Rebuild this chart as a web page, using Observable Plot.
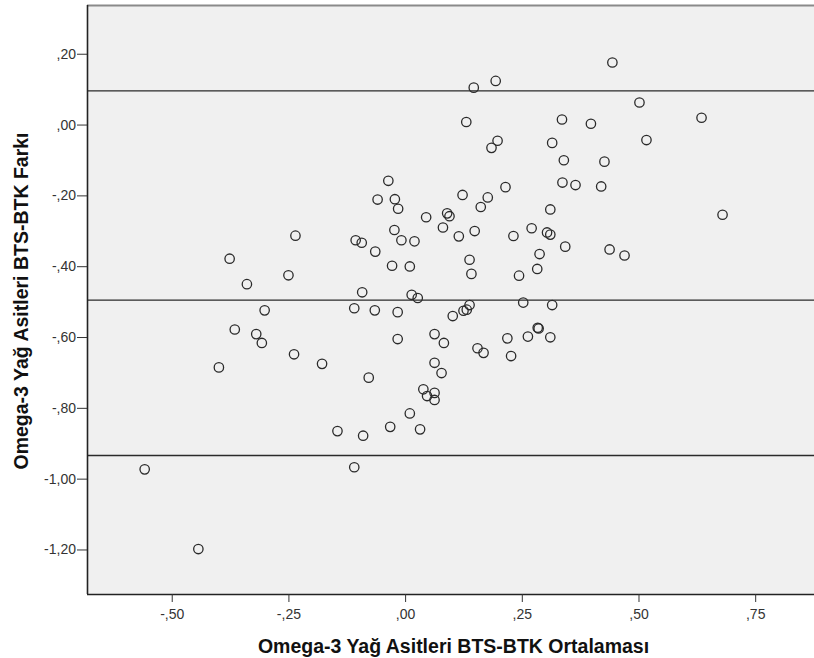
<!DOCTYPE html>
<html>
<head>
<meta charset="utf-8">
<script src="https://cdn.jsdelivr.net/npm/d3@7"></script>
<script src="https://cdn.jsdelivr.net/npm/@observablehq/plot@0.6"></script>
<style>
  html, body { margin: 0; padding: 0; background: #ffffff; }
</style>
</head>
<body>
<div id="chart"></div>
<script>
// Mean of the two measurements (x) and their difference (y)
const ortalama = [
  -0.559, -0.444, -0.400, -0.377, -0.366, -0.340, -0.320, -0.308, -0.302, -0.251,
  -0.239, -0.236, -0.179, -0.146, -0.110, -0.110, -0.107, -0.094, -0.093, -0.091,
  -0.079, -0.065, -0.066, -0.060, -0.037, -0.033, -0.024, -0.029, -0.023, -0.017,
  -0.017, -0.016, -0.009, 0.009, 0.009, 0.013, 0.019, 0.026, 0.031, 0.038,
  0.044, 0.046, 0.062, 0.062, 0.062, 0.062, 0.077, 0.080, 0.082, 0.089,
  0.094, 0.101, 0.114, 0.122, 0.124, 0.131, 0.137, 0.130, 0.137, 0.141,
  0.146, 0.148, 0.154, 0.161, 0.167, 0.176, 0.184, 0.193, 0.197, 0.214,
  0.218, 0.226, 0.231, 0.243, 0.252, 0.262, 0.270, 0.282, 0.283, 0.285,
  0.287, 0.303, 0.310, 0.310, 0.310, 0.314, 0.314, 0.335, 0.336, 0.339,
  0.342, 0.364, 0.397, 0.419, 0.426, 0.437, 0.443, 0.469, 0.501, 0.516,
  0.634, 0.679
];
const fark = [
  -0.978, -1.203, -0.690, -0.383, -0.583, -0.455, -0.596, -0.621, -0.529, -0.430,
  -0.653, -0.318, -0.680, -0.870, -0.523, -0.972, -0.331, -0.338, -0.478, -0.883,
  -0.719, -0.363, -0.529, -0.216, -0.163, -0.858, -0.302, -0.403, -0.215, -0.534,
  -0.610, -0.242, -0.331, -0.405, -0.820, -0.485, -0.334, -0.494, -0.865, -0.752,
  -0.266, -0.771, -0.596, -0.677, -0.762, -0.782, -0.706, -0.295, -0.621, -0.255,
  -0.263, -0.545, -0.320, -0.203, -0.530, -0.527, -0.514, 0.003, -0.386, -0.426,
  0.100, -0.305, -0.636, -0.237, -0.649, -0.210, -0.070, 0.119, -0.050, -0.181,
  -0.608, -0.658, -0.319, -0.431, -0.507, -0.603, -0.297, -0.412, -0.578, -0.580,
  -0.370, -0.309, -0.315, -0.244, -0.605, -0.056, -0.514, 0.010, -0.168, -0.105,
  -0.349, -0.175, -0.002, -0.179, -0.109, -0.357, 0.171, -0.374, 0.058, -0.048,
  0.015, -0.259
];
// Reference lines: upper limit, mean difference, lower limit
const referansCizgileri = [0.091, -0.500, -0.939];

const xTicks = [-0.5, -0.25, 0, 0.25, 0.5, 0.75];
const yTicks = [0.2, 0, -0.2, -0.4, -0.6, -0.8, -1.0, -1.2];

const xTitle = "Omega-3 Yağ Asitleri BTS-BTK Ortalaması";
const yTitle = "Omega-3 Yağ Asitleri BTS-BTK Farkı";

const xDomain = [-0.6815, 0.876];
const yDomain = [-1.3314, 0.332];

const points = ortalama.map((x, i) => ({x, y: fark[i]}));

const fmt = d => {
  let s = Math.abs(d).toFixed(2).replace(".", ",");
  if (s.startsWith("0,")) s = s.slice(1);
  return (d < -1e-9 ? "-" : "") + s;
};

const chart = Plot.plot({
  width: 814,
  height: 658,
  marginLeft: 87,
  marginRight: 0,
  marginTop: 5,
  marginBottom: 64,
  style: {fontFamily: "'Liberation Sans', Arial, sans-serif", fontSize: "14px", background: "#ffffff"},
  x: {domain: xDomain, nice: false},
  y: {domain: yDomain, nice: false},
  marks: [
    Plot.frame({fill: "#f0f0f0", stroke: null}),
    Plot.ruleY([yDomain[1]], {stroke: "#8a8a8a", strokeWidth: 2}),
    Plot.ruleY(referansCizgileri, {stroke: "#2a2a2a", strokeWidth: 1.4}),
    Plot.dot(points, {x: "x", y: "y", r: 4.7, stroke: "#2a2a2a", strokeWidth: 1.3, fill: "none"}),
    Plot.ruleX([xDomain[0]], {stroke: "#222", strokeWidth: 1.6}),
    Plot.ruleY([yDomain[0]], {stroke: "#222", strokeWidth: 1.6}),
    Plot.axisX(xTicks, {tickFormat: fmt, tickSize: 8, tickPadding: 7, label: null, color: "#333", fontSize: 14}),
    Plot.axisY(yTicks, {tickFormat: fmt, tickSize: 10, tickPadding: 1.5, label: null, color: "#333", fontSize: 14, dy: 2}),
    Plot.text([xTitle], {frameAnchor: "bottom", dy: 58, dx: 2.5, textAnchor: "middle", lineAnchor: "bottom", fontWeight: "bold", fontSize: 19.5, fill: "#111"}),
    Plot.text([yTitle], {frameAnchor: "left", dx: -60, dy: 1, rotate: -90, textAnchor: "middle", lineAnchor: "bottom", fontWeight: "bold", fontSize: 19.5, fill: "#111"})
  ]
});
document.getElementById("chart").appendChild(chart);
</script>
</body>
</html>
